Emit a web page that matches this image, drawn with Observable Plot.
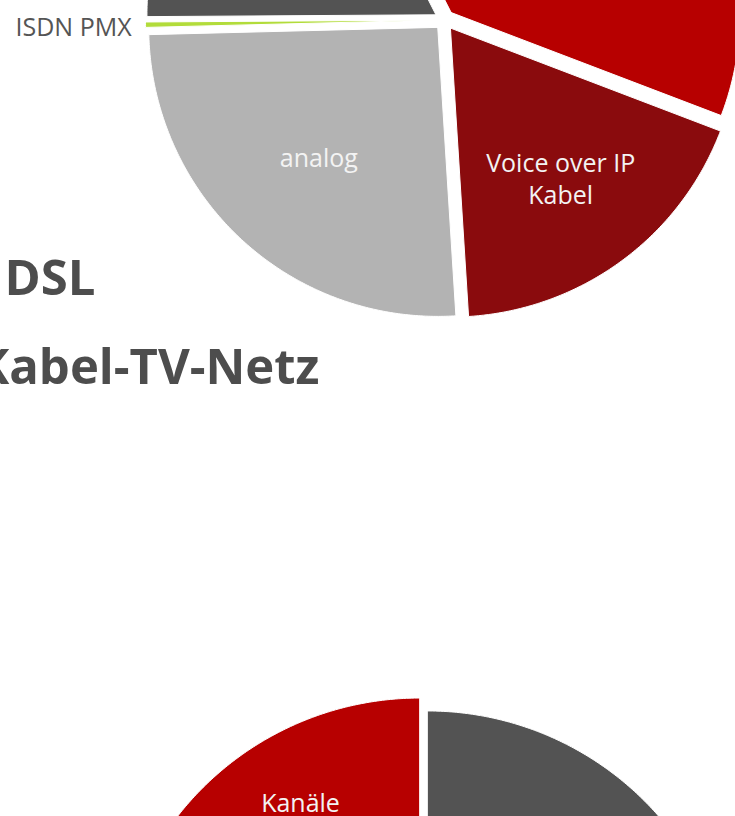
<!DOCTYPE html>
<html><head><meta charset="utf-8">
<script src="https://cdn.jsdelivr.net/npm/d3@7"></script>
<script src="https://cdn.jsdelivr.net/npm/@observablehq/plot@0.6"></script>
<style>html,body{margin:0;padding:0;background:#fff;overflow:hidden}#chart svg{display:block}
g[aria-label="heading-dsl"] text{letter-spacing:2.5px}
g[aria-label="heading-kabel"] text{letter-spacing:0.8px}</style>
</head><body><div id="chart"></div>
<script>
// Upper pie (clockwise, starting at the top-left boundary)
const topCategories = ["Voice over IP DSL", "Voice over IP Kabel", "analog", "ISDN PMX", "ISDN"];
const topValues = [38.3, 18.2, 25.6, 0.3, 17.6];
const topLabels = ["", "Voice over IP\nKabel", "analog", "", ""];
const topColors = ["#b70000", "#8a0b0d", "#b3b3b3", "#b2dc3a", "#535353"];

// Lower pie (clockwise from 12 o'clock)
const bottomCategories = ["übrige", "Kanäle"];
const bottomValues = [83, 17];
const bottomLabels = ["", "Kanäle"];
const bottomColors = ["#535353", "#b70000"];

const headings = ["DSL", "Kabel-TV-Netz"];
const outsideLabel = "ISDN PMX";

const W = 735, H = 816;
const rad = Math.PI / 180;

function pieSlices(cats, vals, labels, {cx, cy, r, explode, start, labelK}) {
  const arcs = d3.pie().sort(null).startAngle(start * rad).endAngle(start * rad + 2 * Math.PI)(vals);
  const polys = [], labs = [];
  arcs.forEach((a, i) => {
    const span = a.endAngle - a.startAngle;
    const mid = (a.startAngle + a.endAngle) / 2;
    const ox = cx + explode * Math.sin(mid), oy = cy - explode * Math.cos(mid);
    const n = Math.max(2, Math.ceil(span / (Math.PI / 360)));
    polys.push({x: ox, y: oy, cat: cats[i]});
    for (let k = 0; k <= n; k++) {
      const t = a.startAngle + span * k / n;
      polys.push({x: ox + r * Math.sin(t), y: oy - r * Math.cos(t), cat: cats[i]});
    }
    polys.push({x: ox, y: oy, cat: cats[i]});
    // label near the sector's area centroid
    const dist = labelK * 2 * r * Math.sin(span / 2) / (1.5 * span);
    if (labels[i]) labs.push({x: ox + dist * Math.sin(mid), y: oy - dist * Math.cos(mid), text: labels[i]});
  });
  return {polys, labs};
}

const upper = pieSlices(topCategories, topValues, topLabels, {cx: 444, cy: 19.5, r: 289, explode: 10, start: -27, labelK: 1.02});
const lower = pieSlices(bottomCategories, bottomValues, bottomLabels, {cx: 423, cy: 1011, r: 307, explode: 7.5, start: 0, labelK: 1.2});

const font = "'Open Sans', 'Noto Sans', sans-serif";

const chart = Plot.plot({
  width: W, height: H, margin: 0,
  style: {overflow: "hidden", background: "#fff"},
  x: {domain: [0, W], range: [0, W], axis: null},
  y: {domain: [0, H], range: [0, H], axis: null},
  color: {domain: [...topCategories, ...bottomCategories], range: [...topColors, ...bottomColors]},
  marks: [
    Plot.line(upper.polys, {x: "x", y: "y", z: "cat", fill: "cat", stroke: "white", strokeWidth: 1, curve: "linear", clip: true}),
    Plot.line(lower.polys, {x: "x", y: "y", z: "cat", fill: "cat", stroke: "white", strokeWidth: 1, curve: "linear", clip: true}),
    Plot.text(upper.labs, {x: "x", y: "y", text: "text", fill: "#f3f3f3", fontSize: 25, fontFamily: font, lineHeight: 1.28}),
    Plot.text(lower.labs, {x: "x", y: "y", text: "text", fill: "#f3f3f3", fontSize: 25, fontFamily: font}),
    Plot.text([outsideLabel], {text: d => d, frameAnchor: "top-left", dx: 15, dy: 35, textAnchor: "start", lineAnchor: "bottom", fill: "#555555", fontSize: 25, fontFamily: font}),
    Plot.text([headings[0]], {ariaLabel: "heading-dsl", text: d => d, frameAnchor: "top-left", dx: 95, dy: 294, textAnchor: "end", lineAnchor: "bottom", fill: "#4d4d4d", fontSize: 49, fontWeight: "bold", fontFamily: font}),
    Plot.text([headings[1]], {ariaLabel: "heading-kabel", text: d => d, frameAnchor: "top-left", dx: 319, dy: 383, textAnchor: "end", lineAnchor: "bottom", fill: "#4d4d4d", fontSize: 49, fontWeight: "bold", fontFamily: font})
  ]
});
document.getElementById("chart").appendChild(chart);
</script>
</body></html>
